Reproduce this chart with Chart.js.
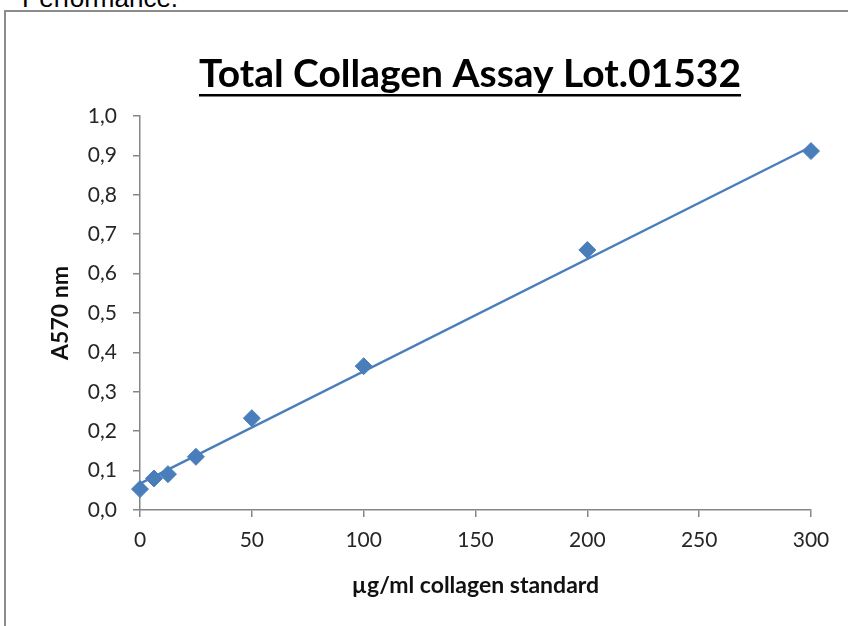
<!DOCTYPE html>
<html>
<head>
<meta charset="utf-8">
<script src="https://cdn.jsdelivr.net/npm/chart.js@4"></script>
<style>
  html, body { margin: 0; padding: 0; background: #fff; overflow: hidden; }
  #wrap { position: relative; width: 848px; height: 626px; }
  #frame { position: absolute; left: 4px; top: 10px; width: 900px; height: 700px; border: 2px solid #8c8c8c; box-sizing: border-box; }
  #perf { position: absolute; left: 22px; top: -17px; font-family: "Liberation Sans", Arial, sans-serif; font-size: 26px; color: #000; white-space: nowrap; }
  canvas { position: absolute; left: 0; top: 0; }
</style>
</head>
<body>
<div id="wrap">
  <div id="perf">Performance.</div>
  <div id="frame"></div>
  <canvas id="c" width="848" height="626"></canvas>
</div>
<script>
// ---- data ----
const chartTitle = "Total Collagen Assay Lot.01532";
const xAxisTitle = "µg/ml collagen standard";
const yAxisTitle = "A570 nm";
const concentrations = [0, 6.25, 12.5, 25, 50, 100, 200, 300];
const absorbance = [0.053, 0.080, 0.091, 0.135, 0.233, 0.365, 0.660, 0.911];
const trendX = [0, 300];
const trendY = [0.067, 0.922];
const xTicks = [0, 50, 100, 150, 200, 250, 300];
const yTicks = [0, 0.1, 0.2, 0.3, 0.4, 0.5, 0.6, 0.7, 0.8, 0.9, 1.0];

const blue = '#4a7ebb';
const axisGrey = '#868686';
const tickColor = '#262626';

const titlePlugin = {
  id: 'underlinedTitle',
  afterDraw(chart) {
    const ctx = chart.ctx;
    ctx.save();
    ctx.font = 'bold 100px Lato';
    const w100 = ctx.measureText(chartTitle).width;
    const size = 100 * 542 / w100;
    ctx.font = 'bold ' + size.toFixed(2) + 'px Lato';
    const w = ctx.measureText(chartTitle).width;
    const cx = 470;
    const baseline = 87;
    ctx.fillStyle = '#000';
    ctx.textAlign = 'center';
    ctx.textBaseline = 'alphabetic';
    ctx.fillText(chartTitle, cx, baseline);
    ctx.fillRect(cx - w / 2, 94, w, 2.5);
    ctx.restore();
  }
};

new Chart(document.getElementById('c'), {
  type: 'scatter',
  data: {
    datasets: [
      {
        label: 'trend',
        data: trendX.map((x, i) => ({ x: x, y: trendY[i] })),
        showLine: true,
        borderColor: blue,
        borderWidth: 2.4,
        pointRadius: 0,
        fill: false,
        clip: false,
        order: 2
      },
      {
        label: 'standard',
        data: concentrations.map((x, i) => ({ x: x, y: absorbance[i] })),
        pointStyle: 'rectRot',
        pointRadius: 8.5,
        pointBackgroundColor: blue,
        pointBorderColor: blue,
        pointBorderWidth: 1,
        showLine: false,
        clip: false,
        order: 1
      }
    ]
  },
  options: {
    responsive: false,
    animation: false,
    devicePixelRatio: 1,
    layout: { padding: { left: 0, right: 37, top: 116, bottom: 0 } },
    plugins: { legend: { display: false }, tooltip: { enabled: false }, title: { display: false } },
    scales: {
      x: {
        type: 'linear',
        min: 0, max: 300,
        afterBuildTicks: (s) => { s.ticks = xTicks.map(v => ({ value: v })); },
        afterFit: (s) => { s.height = 116; },
        grid: { display: true, drawOnChartArea: false, drawTicks: true, tickLength: 7, color: axisGrey, lineWidth: 1.5 },
        border: { display: true, color: axisGrey, width: 1.5 },
        ticks: { color: tickColor, font: { family: 'Lato', size: 21 }, padding: 11, maxRotation: 0 },
        title: { display: true, text: xAxisTitle, color: '#111', font: { family: 'Lato', size: 23, weight: 'bold' }, padding: { top: 0, bottom: 27 } }
      },
      y: {
        type: 'linear',
        min: 0, max: 1,
        afterBuildTicks: (s) => { s.ticks = yTicks.map(v => ({ value: v })); },
        afterFit: (s) => { s.width = 140; },
        grid: { display: true, drawOnChartArea: false, drawTicks: true, tickLength: 7, color: axisGrey, lineWidth: 1.5 },
        border: { display: true, color: axisGrey, width: 1.5 },
        ticks: { color: tickColor, font: { family: 'Lato', size: 21 }, padding: 16, callback: (v) => Number(v).toFixed(1).replace('.', ',') },
        title: { display: true, text: yAxisTitle, color: '#111', font: { family: 'Lato', size: 23, weight: 'bold' }, padding: { top: 47, bottom: 0 } }
      }
    }
  },
  plugins: [titlePlugin]
});
</script>
</body>
</html>
